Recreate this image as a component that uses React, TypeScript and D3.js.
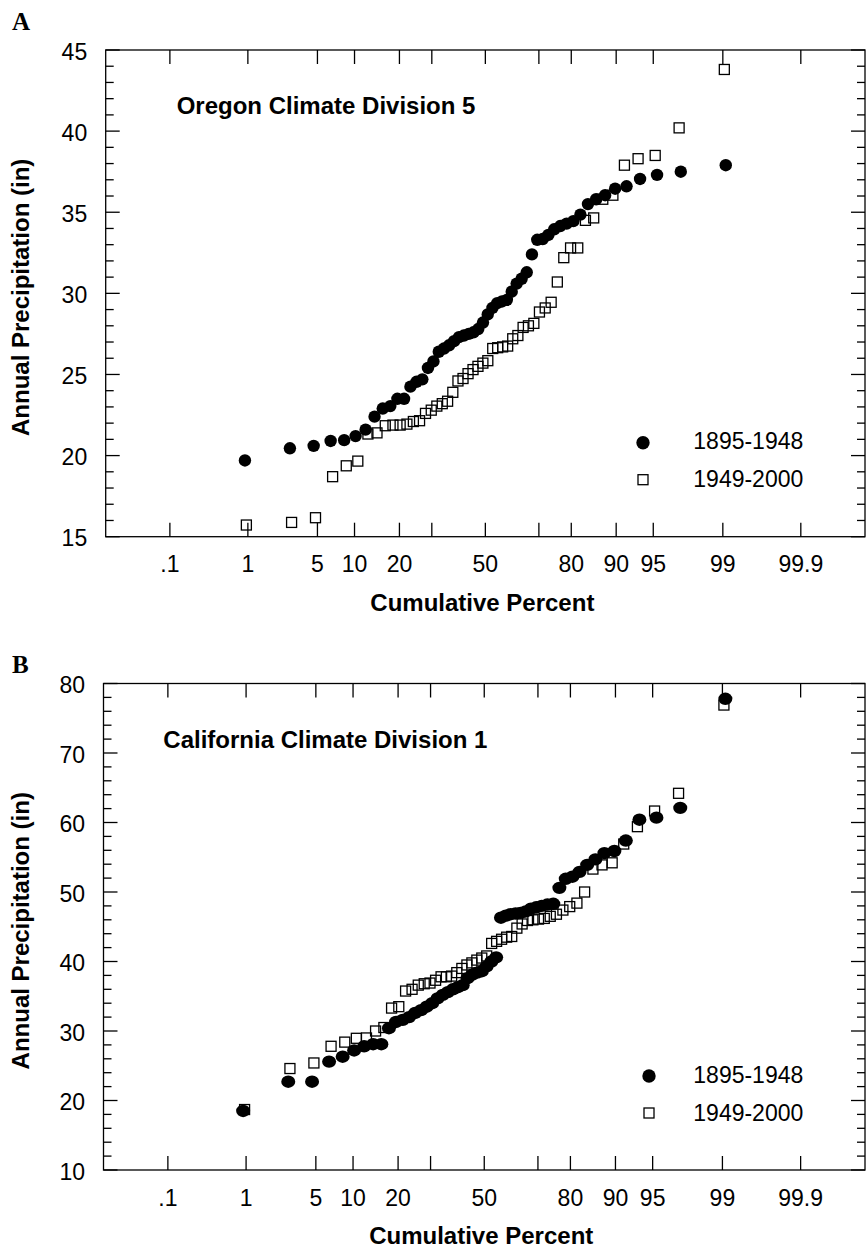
import React from "react";
import * as d3 from "d3";

// ---------- DATA (annual precipitation, inches, sorted ascending) ----------
const seriesNames = ["1895-1948", "1949-2000"];

const oregonEarly = [
  19.7, 20.45, 20.6, 20.9, 20.95, 21.2, 21.6, 22.4, 22.9, 23.05,
  23.5, 23.5, 24.25, 24.55, 24.7, 25.4, 25.8, 26.4, 26.6, 26.8,
  27.05, 27.3, 27.4, 27.5, 27.6, 27.8, 28.2, 28.7, 29.1, 29.4,
  29.5, 29.6, 30.1, 30.6, 30.9, 31.3, 32.4, 33.3, 33.35, 33.6,
  33.95, 34.15, 34.3, 34.45, 34.85, 35.5, 35.8, 36.05, 36.45, 36.6,
  37.05, 37.3, 37.5, 37.9,
];
const oregonLate = [
  15.72, 15.88, 16.17, 18.7, 19.37, 19.66, 21.33, 21.4, 21.84, 21.88,
  21.88, 21.94, 22.1, 22.15, 22.6, 22.8, 23.05, 23.2, 23.35, 23.9,
  24.6, 24.75, 25.05, 25.3, 25.5, 25.7, 25.85, 26.6, 26.65, 26.7,
  26.75, 27.2, 27.4, 27.9, 28.0, 28.15, 28.85, 29.1, 29.45, 30.7,
  32.2, 32.8, 32.8, 34.5, 34.65, 35.8, 36.05, 37.9, 38.3, 38.5,
  40.2, 43.8,
];
const californiaEarly = [
  18.5, 22.7, 22.7, 25.6, 26.3, 27.2, 27.8, 28.1, 28.1, 30.4,
  31.3, 31.6, 32.0, 32.6, 33.0, 33.5, 34.0, 34.7, 35.2, 35.6,
  36.0, 36.3, 36.6, 37.6, 38.1, 38.4, 38.6, 39.3, 40.0, 40.6,
  46.3, 46.6, 46.8, 46.9, 47.0, 47.2, 47.6, 47.8, 48.0, 48.2,
  48.3, 50.6, 51.9, 52.2, 52.9, 53.9, 54.7, 55.6, 55.9, 57.4,
  60.4, 60.7, 62.1, 77.8,
];
const californiaLate = [
  18.7, 24.6, 25.4, 27.8, 28.4, 28.95, 29.0, 30.0, 30.5, 33.3,
  33.5, 35.75, 36.0, 36.6, 36.8, 36.9, 37.3, 37.8, 37.8, 37.9,
  38.4, 39.0, 39.5, 39.8, 40.2, 40.5, 40.8, 42.6, 42.9, 43.2,
  43.5, 43.6, 44.8, 45.4, 45.9, 46.0, 46.1, 46.2, 46.5, 46.8,
  47.4, 47.9, 48.4, 50.0, 53.3, 53.9, 54.2, 56.9, 59.4, 61.65,
  64.2, 76.9,
];

const xTickPercents = [0.1, 1, 5, 10, 20, 30, 50, 70, 80, 90, 95, 99, 99.9];
const xTickLabels = [".1", "1", "5", "10", "20", "", "50", "", "80", "90", "95", "99", "99.9"];
const xDomainPercents = [0.01, 99.99];

// ---------- helpers ----------
function qnorm(p: number): number {
  const a = [-3.969683028665376e1, 2.209460984245205e2, -2.759285104469687e2, 1.38357751867269e2, -3.066479806614716e1, 2.506628277459239];
  const b = [-5.447609879822406e1, 1.615858368580409e2, -1.556989798598866e2, 6.680131188771972e1, -1.328068155288572e1];
  const c = [-7.784894002430293e-3, -3.223964580411365e-1, -2.400758277161838, -2.549671664736183, 4.374664141464968, 2.938163982698783];
  const d = [7.784695709041462e-3, 3.224671290700398e-1, 2.445134137142996, 3.754408661907416];
  const plow = 0.02425;
  const phigh = 1 - plow;
  if (p < plow) {
    const q = Math.sqrt(-2 * Math.log(p));
    return (((((c[0] * q + c[1]) * q + c[2]) * q + c[3]) * q + c[4]) * q + c[5]) / ((((d[0] * q + d[1]) * q + d[2]) * q + d[3]) * q + 1);
  }
  if (p <= phigh) {
    const q = p - 0.5;
    const r = q * q;
    return ((((((a[0] * r + a[1]) * r + a[2]) * r + a[3]) * r + a[4]) * r + a[5]) * q) / (((((b[0] * r + b[1]) * r + b[2]) * r + b[3]) * r + b[4]) * r + 1);
  }
  const q = Math.sqrt(-2 * Math.log(1 - p));
  return -(((((c[0] * q + c[1]) * q + c[2]) * q + c[3]) * q + c[4]) * q + c[5]) / ((((d[0] * q + d[1]) * q + d[2]) * q + d[3]) * q + 1);
}

// Hazen plotting position, in percent
const plotPos = (i: number, n: number) => ((i + 0.5) / n) * 100;

const SANS = "'Liberation Sans', Arial, Helvetica, sans-serif";
const SERIF = "'Liberation Serif', 'Times New Roman', Times, serif";

type PanelCfg = {
  letter: string;
  letterY: number;
  left: number;
  right: number;
  top: number;
  bottom: number;
  yDomain: [number, number];
  yMajor: number;
  yMinor: number;
  title: string;
  titleX: number;
  titleY: number;
  legendMarkerX: number;
  legendTextX: number;
  dotRx: number;
  dotRy: number;
  early: number[];
  late: number[];
};

const panels: PanelCfg[] = [
  {
    letter: "A", letterY: 30, left: 105.7, right: 865, top: 50, bottom: 536.7,
    yDomain: [15, 45], yMajor: 5, yMinor: 1,
    title: "Oregon Climate Division 5", titleX: 176.7, titleY: 114,
    legendMarkerX: 643, legendTextX: 693.3, dotRx: 6.2, dotRy: 6.2,
    early: oregonEarly, late: oregonLate,
  },
  {
    letter: "B", letterY: 673, left: 103.5, right: 865, top: 683.5, bottom: 1170,
    yDomain: [10, 80], yMajor: 10, yMinor: 2,
    title: "California Climate Division 1", titleX: 163.3, titleY: 747.5,
    legendMarkerX: 649, legendTextX: 693.3, dotRx: 7, dotRy: 6.2,
    early: californiaEarly, late: californiaLate,
  },
];

const Panel: React.FC<{ cfg: PanelCfg }> = ({ cfg }) => {
  const x = d3
    .scaleLinear()
    .domain(xDomainPercents.map((p) => qnorm(p / 100)))
    .range([cfg.left, cfg.right]);
  const px = (pct: number) => x(qnorm(pct / 100));
  const y = d3.scaleLinear().domain(cfg.yDomain).range([cfg.bottom, cfg.top]);
  const majors = d3.range(cfg.yDomain[0], cfg.yDomain[1] + 1e-9, cfg.yMajor);
  const minors = d3
    .range(cfg.yDomain[0], cfg.yDomain[1] + 1e-9, cfg.yMinor)
    .filter((v) => Math.abs(v / cfg.yMajor - Math.round(v / cfg.yMajor)) > 1e-6);
  const MAJ = 14;
  const MIN = 8;
  const sw = 1.3;
  const sq = 10;
  const midY = (cfg.top + cfg.bottom) / 2;
  const midX = (cfg.left + cfg.right) / 2;

  return (
    <g>
      <text x={12} y={cfg.letterY} fontFamily={SERIF} fontWeight="bold" fontSize={25}>
        {cfg.letter}
      </text>
      {/* frame */}
      <rect x={cfg.left} y={cfg.top} width={cfg.right - cfg.left} height={cfg.bottom - cfg.top} fill="none" stroke="#000" strokeWidth={sw} />
      {/* x ticks */}
      {xTickPercents.map((p, i) => (
        <g key={"xt" + i}>
          <line x1={px(p)} x2={px(p)} y1={cfg.bottom} y2={cfg.bottom - MAJ} stroke="#000" strokeWidth={sw} />
          <line x1={px(p)} x2={px(p)} y1={cfg.top} y2={cfg.top + MAJ} stroke="#000" strokeWidth={sw} />
          {xTickLabels[i] && (
            <text x={px(p)} y={cfg.bottom + 35.5} textAnchor="middle" fontFamily={SANS} fontSize={23}>
              {xTickLabels[i]}
            </text>
          )}
        </g>
      ))}
      {/* y ticks */}
      {majors.map((v) => (
        <g key={"ym" + v}>
          <line x1={cfg.left} x2={cfg.left + MAJ} y1={y(v)} y2={y(v)} stroke="#000" strokeWidth={sw} />
          <line x1={cfg.right} x2={cfg.right - MAJ} y1={y(v)} y2={y(v)} stroke="#000" strokeWidth={sw} />
          <text x={cfg.left - 18.5} y={y(v) + 9.5} textAnchor="end" fontFamily={SANS} fontSize={23}>
            {v}
          </text>
        </g>
      ))}
      {minors.map((v) => (
        <g key={"yn" + v}>
          <line x1={cfg.left} x2={cfg.left + MIN} y1={y(v)} y2={y(v)} stroke="#000" strokeWidth={sw} />
          <line x1={cfg.right} x2={cfg.right - MIN} y1={y(v)} y2={y(v)} stroke="#000" strokeWidth={sw} />
        </g>
      ))}
      {/* axis titles */}
      <text x={midX - 3} y={cfg.bottom + 74} textAnchor="middle" fontFamily={SANS} fontWeight="bold" fontSize={24}>
        Cumulative Percent
      </text>
      <text
        transform={`translate(29,${midY + 4}) rotate(-90)`}
        textAnchor="middle"
        fontFamily={SANS}
        fontWeight="bold"
        fontSize={24}
      >
        Annual Precipitation (in)
      </text>
      <text x={cfg.titleX} y={cfg.titleY} fontFamily={SANS} fontWeight="bold" fontSize={24}>
        {cfg.title}
      </text>
      {/* data: squares (later period) */}
      {cfg.late.map((v, i) => (
        <rect
          key={"s" + i}
          x={px(plotPos(i, cfg.late.length)) - sq / 2}
          y={y(v) - sq / 2}
          width={sq}
          height={sq}
          fill="none"
          stroke="#000"
          strokeWidth={1.3}
        />
      ))}
      {/* data: filled dots (earlier period) */}
      {cfg.early.map((v, i) => (
        <ellipse key={"c" + i} cx={px(plotPos(i, cfg.early.length))} cy={y(v)} rx={cfg.dotRx} ry={cfg.dotRy} fill="#000" />
      ))}
      {/* legend */}
      <circle cx={cfg.legendMarkerX} cy={cfg.bottom - 94} r={6.7} fill="#000" />
      <text x={cfg.legendTextX} y={cfg.bottom - 87.5} fontFamily={SANS} fontSize={23}>
        {seriesNames[0]}
      </text>
      <rect x={cfg.legendMarkerX - 5} y={cfg.bottom - 57 - 5} width={10} height={10} fill="none" stroke="#000" strokeWidth={1.3} />
      <text x={cfg.legendTextX} y={cfg.bottom - 49.5} fontFamily={SANS} fontSize={23}>
        {seriesNames[1]}
      </text>
    </g>
  );
};

export default function App() {
  return (
    <svg
      width={866}
      height={1250}
      viewBox="0 0 866 1250"
      style={{ position: "absolute", left: 0, top: 0, background: "#fff" }}
    >
      <rect x={0} y={0} width={866} height={1250} fill="#fff" />
      {panels.map((p) => (
        <Panel key={p.letter} cfg={p} />
      ))}
    </svg>
  );
}
